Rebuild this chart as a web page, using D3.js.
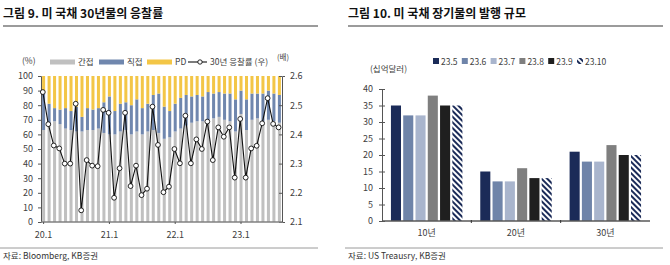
<!DOCTYPE html>
<html><head><meta charset="utf-8">
<script src="https://cdn.jsdelivr.net/npm/d3@7"></script>
<style>
body{margin:0;background:#fff;}
svg{display:block;font-family:"Noto Sans CJK KR","Noto Sans",sans-serif;}
</style></head>
<body>
<svg id="c" width="670" height="265"></svg>
<script>
// ---------- Left chart data ----------
const months = ["20.1","20.2","20.3","20.4","20.5","20.6","20.7","20.8","20.9","20.10","20.11","20.12",
"21.1","21.2","21.3","21.4","21.5","21.6","21.7","21.8","21.9","21.10","21.11","21.12",
"22.1","22.2","22.3","22.4","22.5","22.6","22.7","22.8","22.9","22.10","22.11","22.12",
"23.1","23.2","23.3","23.4","23.5","23.6","23.7","23.8"];
const monthTicks = ["20.1","21.1","22.1","23.1"];
const indirect = [63,66,69,67,64,63,62,62,63,63,64,61,60,60,62,63,60,62,60,62,63,61,57,58,62,64,66,68,69,69,70,71,72,70,69,62,74,63,70,71,69,70,69,68];
const direct   = [25,15,9,10,14,13,17,10,15,14,14,21,26,16,19,19,20,22,18,19,24,27,22,18,19,21,21,18,18,17,19,17,17,18,19,22,16,21,18,17,19,20,19,19];
const pd       = [12,19,22,23,22,24,21,28,22,23,22,18,14,24,19,18,20,16,22,19,13,12,21,24,19,15,13,14,13,14,11,12,11,12,12,16,10,16,12,12,12,10,12,13];
const bidCover = [2.545,2.435,2.362,2.352,2.30,2.30,2.505,2.14,2.312,2.293,2.291,2.484,2.474,2.183,2.284,2.474,2.223,2.293,2.192,2.214,2.495,2.364,2.202,2.221,2.35,2.301,2.464,2.301,2.383,2.35,2.444,2.312,2.424,2.392,2.424,2.252,2.453,2.252,2.352,2.361,2.438,2.524,2.436,2.424];
const leftTicks = [0,10,20,30,40,50,60,70,80,90,100];
const rightTicks = [2.1,2.2,2.3,2.4,2.5,2.6];
const stackKeys = ["간접","직접","PD"];
const stackColors = ["#c0c0c0","#7087ae","#f3c647"];
const lineLabel = "30년 응찰률 (우)";

// ---------- Right chart data ----------
const tenors = ["10년","20년","30년"];
const issues = ["23.5","23.6","23.7","23.8","23.9","23.10"];
const issueColors = ["#1b2b58","#6f84a9","#a9b5cd","#7f7f7f","#1f1f1f","hatch"];
const issuance = {
  "10년":[35,32,32,38,35,35],
  "20년":[15,12,12,16,13,13],
  "30년":[21,18,18,23,20,20]
};
const issTicks = [0,5,10,15,20,25,30,35,40];

const svg = d3.select("#c");
const defs = svg.append("defs");
const pat = defs.append("pattern").attr("id","hatch").attr("patternUnits","userSpaceOnUse")
  .attr("width",4).attr("height",4).attr("patternTransform","rotate(-45)");
pat.append("rect").attr("width",4).attr("height",4).attr("fill","#fff");
pat.append("rect").attr("width",2).attr("height",4).attr("fill","#1b2b58");

const txt = "#404040";

// ---------- Titles, rules, sources ----------
function header(x, x2, title, source){
  svg.append("text").attr("x",x).attr("y",18).attr("font-size",12).attr("font-weight","bold")
    .attr("fill","#111").text(title);
  svg.append("line").attr("x1",x).attr("x2",x2).attr("y1",26).attr("y2",26).attr("stroke","#7a7a7a").attr("stroke-width",1.3);
  svg.append("line").attr("x1",x-3).attr("x2",x2).attr("y1",248).attr("y2",248).attr("stroke","#9a9a9a").attr("stroke-width",1);
  svg.append("text").attr("x",x).attr("y",258.5).attr("font-size",8.5).attr("fill","#333").text(source);
}
header(3, 318, "그림 9. 미 국채 30년물의 응찰률", "자료: Bloomberg, KB증권");
header(348, 663, "그림 10. 미 국채 장기물의 발행 규모", "자료: US Treausry, KB증권");

// ---------- Left chart ----------
const xL = d3.scaleBand().domain(months).range([41,282]).paddingInner(0.45).paddingOuter(0.2);
const yL = d3.scaleLinear().domain([0,100]).range([222,76]);
const yR = d3.scaleLinear().domain([2.1,2.6]).range([222,76]);

const rows = months.map((m,i)=>({m, "간접":indirect[i], "직접":direct[i], "PD":pd[i]}));
const stack = d3.stack().keys(stackKeys)(rows);
const gL = svg.append("g");
stack.forEach((layer,k)=>{
  gL.append("g").attr("fill",stackColors[k]).selectAll("rect").data(layer).join("rect")
    .attr("x",d=>xL(d.data.m)).attr("width",xL.bandwidth())
    .attr("y",d=>yL(d[1])).attr("height",d=>yL(d[0])-yL(d[1]));
});

// axes left
const axL = svg.append("g").attr("transform","translate(41,0)")
  .call(d3.axisLeft(yL).tickValues(leftTicks).tickSize(3).tickPadding(5));
const axR = svg.append("g").attr("transform","translate(282,0)")
  .call(d3.axisRight(yR).tickValues(rightTicks).tickFormat(d3.format(".1f")).tickSize(3).tickPadding(5));
axR.selectAll(".tick line").attr("x1",-3).attr("x2",0);
const axB = svg.append("g").attr("transform","translate(0,222)")
  .call(d3.axisBottom(xL).tickValues(monthTicks).tickSize(2).tickPadding(8));
axB.select(".domain").attr("d","M41,0H282").attr("stroke","#808080").attr("stroke-width",1.6);
[axL,axR,axB].forEach(a=>{
  a.selectAll("text").attr("font-size",9).attr("fill",txt).attr("font-family","Noto Sans CJK KR, sans-serif");
  a.selectAll(".tick line").attr("stroke","#555");
});
axL.select(".domain").attr("stroke","#555");
axR.select(".domain").attr("stroke","#555");

// line
const lineGen = d3.line().x((d,i)=>xL(months[i])+xL.bandwidth()/2-0.8).y(d=>yR(d));
svg.append("path").datum(bidCover).attr("d",lineGen).attr("fill","none").attr("stroke","#111").attr("stroke-width",1.1);
svg.append("g").selectAll("circle").data(bidCover).join("circle")
  .attr("cx",(d,i)=>xL(months[i])+xL.bandwidth()/2-0.8).attr("cy",d=>yR(d)).attr("r",2.4)
  .attr("fill","#fff").attr("stroke","#111").attr("stroke-width",0.9);

// unit labels
svg.append("text").attr("x",22).attr("y",64).attr("font-size",8.5).attr("fill",txt).text("(%)");
svg.append("text").attr("x",277).attr("y",60).attr("font-size",7.5).attr("fill",txt).text("(배)");

// legend left
const legL = svg.append("g").attr("font-size",8.5).attr("fill",txt);
const legItems = [{x:50,k:0},{x:99,k:1},{x:147,k:2}];
legItems.forEach(it=>{
  legL.append("rect").attr("x",it.x).attr("y",59.5).attr("width",25).attr("height",5).attr("fill",stackColors[it.k]);
  legL.append("text").attr("x",it.x+28).attr("y",65).text(stackKeys[it.k]);
});
legL.append("line").attr("x1",188).attr("x2",207).attr("y1",62).attr("y2",62).attr("stroke","#111").attr("stroke-width",1.1);
legL.append("circle").attr("cx",200).attr("cy",62).attr("r",2.2).attr("fill","#fff").attr("stroke","#111").attr("stroke-width",0.9);
legL.append("text").attr("x",210).attr("y",65).text(lineLabel);

// ---------- Right chart ----------
const x0 = d3.scaleBand().domain(tenors).range([382,650]).paddingInner(0.2).paddingOuter(0.1);
const x1 = d3.scaleBand().domain(issues).range([0,x0.bandwidth()]).paddingInner(0.18);
const yI = d3.scaleLinear().domain([0,40]).range([221,89]);

const gR = svg.append("g");
tenors.forEach(t=>{
  gR.append("g").attr("transform",`translate(${x0(t)},0)`).selectAll("rect")
    .data(issuance[t].map((v,j)=>({v,s:issues[j],j}))).join("rect")
    .attr("x",d=>x1(d.s)).attr("width",x1.bandwidth())
    .attr("y",d=>yI(d.v)).attr("height",d=>yI(0)-yI(d.v))
    .attr("fill",d=>issueColors[d.j]==="hatch"?"url(#hatch)":issueColors[d.j]);
});
const axI = svg.append("g").attr("transform","translate(382,0)")
  .call(d3.axisLeft(yI).tickValues(issTicks).tickSize(3).tickPadding(6));
axI.selectAll(".tick line").attr("x1",-3).attr("x2",3);
const axIB = svg.append("g").attr("transform","translate(0,221)")
  .call(d3.axisBottom(x0).tickSize(0).tickPadding(9));
axIB.select(".domain").attr("d","M382,0H650").attr("stroke","#595959").attr("stroke-width",1.4);
// small separators between categories
axIB.selectAll("line.sep").data(tenors.slice(1)).join("line").attr("class","sep")
  .attr("x1",d=>x0(d)-x0.step()*x0.paddingInner()/2).attr("x2",d=>x0(d)-x0.step()*x0.paddingInner()/2)
  .attr("y1",-1).attr("y2",2).attr("stroke","#333").attr("stroke-width",1);
[axI,axIB].forEach(a=>{
  a.selectAll("text").attr("font-size",9).attr("fill",txt).attr("font-family","Noto Sans CJK KR, sans-serif");
  a.selectAll(".tick line").attr("stroke","#555");
});
axI.select(".domain").attr("stroke","#555");
svg.append("text").attr("x",370).attr("y",72).attr("font-size",8.5).attr("fill",txt).text("(십억달러)");

// legend right
const legR = svg.append("g").attr("font-size",8.5).attr("fill",txt);
issues.forEach((s,j)=>{
  const lx = 433 + j*28.8;
  legR.append("rect").attr("x",lx).attr("y",58).attr("width",6).attr("height",6)
    .attr("fill",issueColors[j]==="hatch"?"url(#hatch)":issueColors[j]);
  legR.append("text").attr("x",lx+8).attr("y",64.5).text(s);
});
</script>
</body></html>
